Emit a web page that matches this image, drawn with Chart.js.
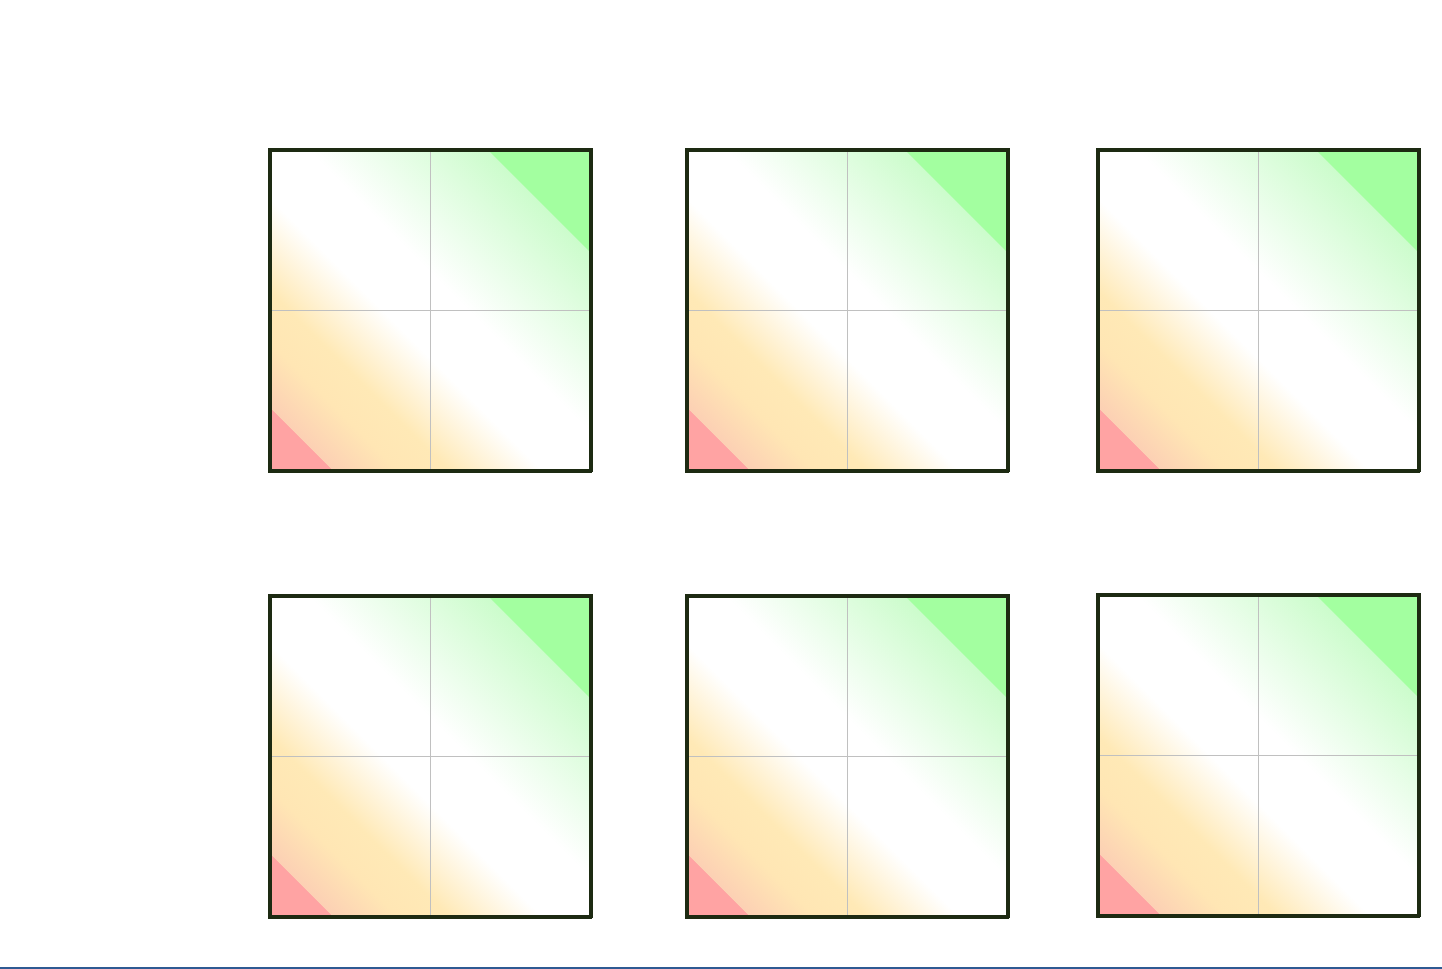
<!DOCTYPE html>
<html>
<head>
<meta charset="utf-8">
<script src="https://cdn.jsdelivr.net/npm/chart.js@4.4.1/dist/chart.umd.min.js"></script>
<style>
  html, body { margin: 0; padding: 0; background: #ffffff; }
  body { width: 1442px; height: 969px; position: relative; overflow: hidden; font-family: "Noto Sans", sans-serif; }
  canvas.q { position: absolute; }
  #baseline { position: absolute; left: 0; top: 967px; width: 1442px; height: 2px; background: #2f5a93; }
</style>
</head>
<body>
<div id="baseline"></div>
<script>
// ---- data ----
const panelIds = ['p1', 'p2', 'p3', 'p4', 'p5', 'p6'];
const axisTicks = [-1, 0, 1];          // grid values on both axes (quadrants split at 0)
const pointsX = [];                     // no plotted points are visible in the reference
const pointsY = [];

// ---- layout (outer box of each panel, px) ----
const panelLeft = [268, 685, 1096, 268, 685, 1096];
const panelTop  = [148, 148, 148, 594, 594, 593];
const OUTER = 325, PAD = 8, LAYOUT_PAD = 10;

// ---- style ----
const borderColor = '#1d2a12';
const gridColor = '#c0c0c0';
const bgStops = [
  [0.000, '#ffa3a3'], [0.098, '#ffa3a3'],
  [0.099, '#fcd0b4'], [0.200, '#ffe6b4'], [0.280, '#ffe9b6'],
  [0.425, '#ffffff'], [0.560, '#ffffff'],
  [0.839, '#ccfccc'], [0.840, '#a3ffa0'], [1.000, '#a3ffa0']
];

const bgPlugin = {
  id: 'zoneBackground',
  beforeDraw(chart) {
    const { ctx, chartArea: a } = chart;
    const g = ctx.createLinearGradient(a.left, a.bottom, a.right, a.top);
    bgStops.forEach(s => g.addColorStop(s[0], s[1]));
    ctx.save();
    ctx.fillStyle = g;
    ctx.fillRect(a.left, a.top, a.right - a.left, a.bottom - a.top);
    ctx.restore();
  }
};

function axis(position, showGrid) {
  return {
    type: 'linear',
    position: position,
    display: true,
    min: axisTicks[0],
    max: axisTicks[axisTicks.length - 1],
    ticks: { display: false, stepSize: axisTicks[1] - axisTicks[0] },
    grid: { display: showGrid, color: gridColor, lineWidth: 1, drawTicks: false, tickLength: 0 },
    border: { display: true, color: borderColor, width: 4 },
    title: { display: false }
  };
}

panelIds.forEach((id, i) => {
  const c = document.createElement('canvas');
  c.className = 'q';
  c.id = id;
  const size = OUTER + 2 * PAD;
  c.width = size; c.height = size;
  c.style.width = size + 'px'; c.style.height = size + 'px';
  c.style.left = (panelLeft[i] - PAD) + 'px';
  c.style.top = (panelTop[i] - PAD) + 'px';
  document.body.appendChild(c);

  new Chart(c, {
    type: 'scatter',
    data: {
      datasets: [{
        data: pointsX.map((x, k) => ({ x: x, y: pointsY[k] })),
        pointRadius: 4,
        backgroundColor: '#2f5a93'
      }]
    },
    options: {
      responsive: false,
      animation: false,
      devicePixelRatio: 1,
      layout: { padding: LAYOUT_PAD },
      plugins: { legend: { display: false }, tooltip: { enabled: false }, title: { display: false } },
      scales: {
        x: axis('bottom', true),
        y: axis('left', true),
        x2: axis('top', false),
        y2: axis('right', false)
      }
    },
    plugins: [bgPlugin]
  });
});
</script>
</body>
</html>
